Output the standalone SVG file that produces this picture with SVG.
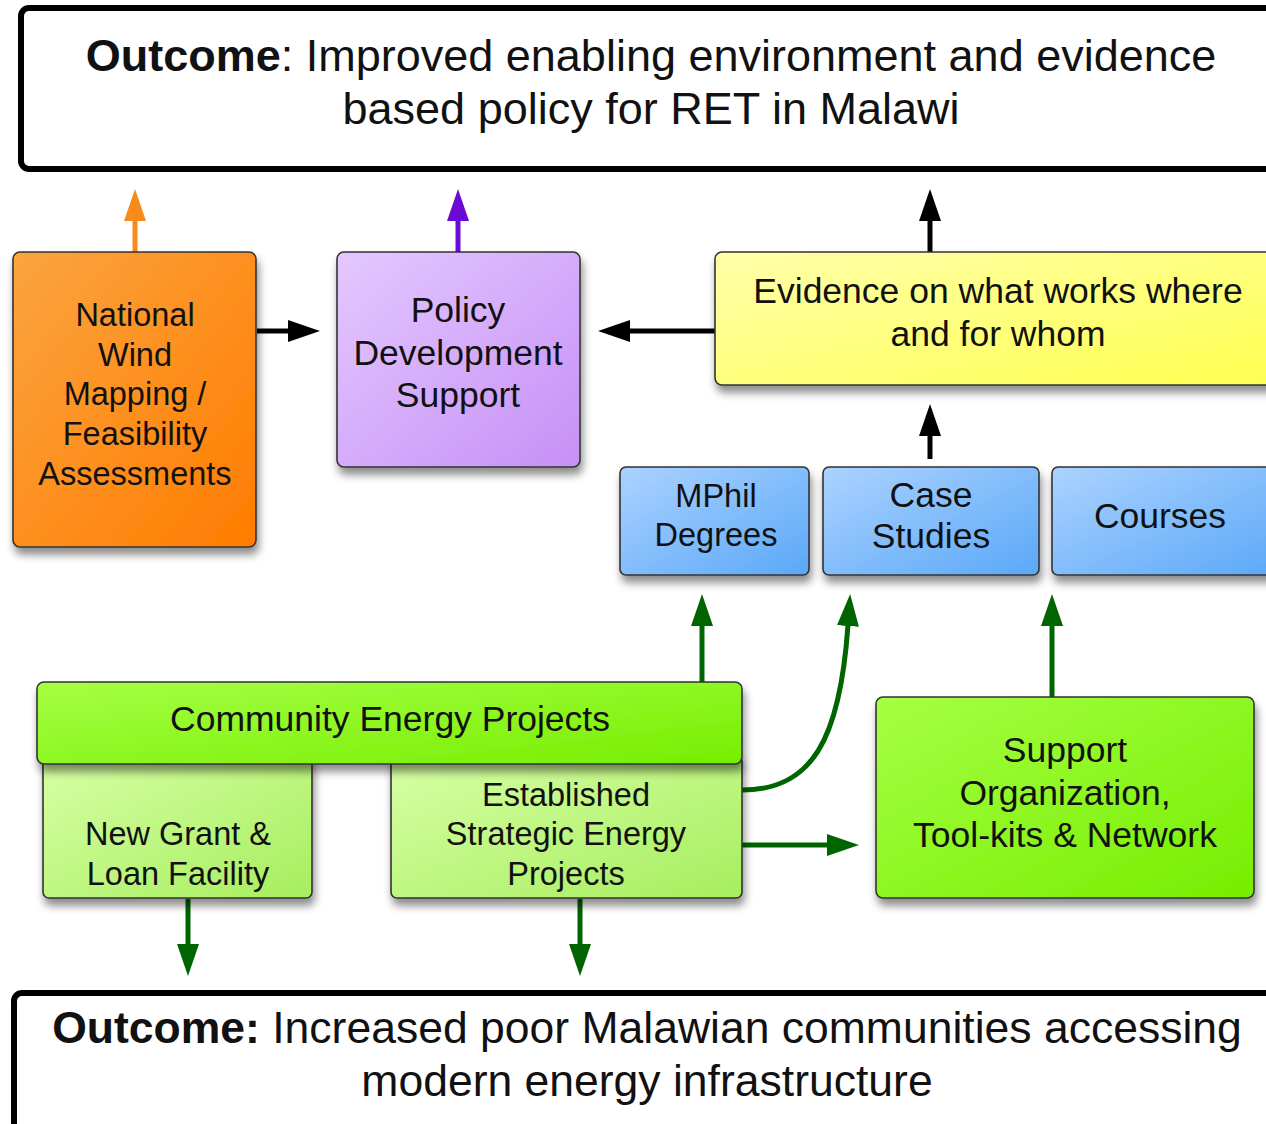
<svg xmlns="http://www.w3.org/2000/svg" width="1266" height="1124" viewBox="0 0 1266 1124">
  <defs>
    <style>
      text { font-family: "Liberation Sans", Arial, sans-serif; fill: #111; text-anchor: middle; }
      .big { font-size: 45px; }
      .big2 { font-size: 44.5px; }
      .b { font-weight: bold; }
      .t35 { font-size: 35.5px; }
      .t32 { font-size: 32.5px; }
      .box { stroke: #333; stroke-width: 1.6; filter: url(#shadow); }
      .outcome { fill: #fff; stroke: #000; stroke-width: 6; }
      .edge { fill: none; stroke-width: 5; }
      .k { stroke: #000; }
      .g { stroke: #006400; }
    </style>
    <filter id="shadow" x="-10%" y="-10%" width="125%" height="130%">
      <feDropShadow dx="2" dy="7" stdDeviation="4" flood-color="#000" flood-opacity="0.45"/>
    </filter>
    <linearGradient id="gOrange" x1="0" y1="0" x2="1" y2="1">
      <stop offset="0" stop-color="#fba43f"/>
      <stop offset="1" stop-color="#ff7c00"/>
    </linearGradient>
    <linearGradient id="gPurple" x1="0" y1="0" x2="1" y2="1">
      <stop offset="0" stop-color="#e4c8ff"/>
      <stop offset="1" stop-color="#c690f6"/>
    </linearGradient>
    <linearGradient id="gYellow" x1="0" y1="0" x2="1" y2="1">
      <stop offset="0" stop-color="#ffffaa"/>
      <stop offset="1" stop-color="#ffff50"/>
    </linearGradient>
    <linearGradient id="gBlue" x1="0" y1="0" x2="1" y2="1">
      <stop offset="0" stop-color="#acd2ff"/>
      <stop offset="1" stop-color="#5aa8f8"/>
    </linearGradient>
    <linearGradient id="gGreen" x1="0" y1="0" x2="1" y2="1">
      <stop offset="0" stop-color="#a6ff44"/>
      <stop offset="1" stop-color="#76ee00"/>
    </linearGradient>
    <linearGradient id="gLight" x1="0" y1="0" x2="1" y2="1">
      <stop offset="0" stop-color="#d8ffa6"/>
      <stop offset="1" stop-color="#a6ee5e"/>
    </linearGradient>
    <marker id="ahBlack" markerUnits="userSpaceOnUse" markerWidth="36" markerHeight="24" refX="1" refY="12" orient="auto">
      <path d="M0,1 L32,12 L0,23 Z" fill="#000"/>
    </marker>
    <marker id="ahGreen" markerUnits="userSpaceOnUse" markerWidth="36" markerHeight="24" refX="1" refY="12" orient="auto">
      <path d="M0,1 L32,12 L0,23 Z" fill="#006400"/>
    </marker>
    <marker id="ahOrange" markerUnits="userSpaceOnUse" markerWidth="36" markerHeight="24" refX="1" refY="12" orient="auto">
      <path d="M0,1 L32,12 L0,23 Z" fill="#f98a1c"/>
    </marker>
    <marker id="ahPurple" markerUnits="userSpaceOnUse" markerWidth="36" markerHeight="24" refX="1" refY="12" orient="auto">
      <path d="M0,1 L32,12 L0,23 Z" fill="#6a0ad4"/>
    </marker>
  </defs>

  <rect width="1266" height="1124" fill="#fff"/>

  <!-- outcome at the top -->
  <g id="outcome-policy">
    <rect class="outcome" x="21" y="8" width="1264" height="161" rx="8"/>
    <text class="big" x="651" y="71"><tspan class="b">Outcome</tspan>: Improved enabling environment and evidence</text>
    <text class="big" x="651" y="124">based policy for RET in Malawi</text>
  </g>

  <!-- connectors -->
  <g id="connectors">
    <path class="edge" stroke="#f98a1c" d="M135,252 V220" marker-end="url(#ahOrange)"/>
    <path class="edge" stroke="#6a0ad4" d="M458,252 V220" marker-end="url(#ahPurple)"/>
    <path class="edge k" d="M930,252 V220" marker-end="url(#ahBlack)"/>
    <path class="edge k" d="M257,331 H289" marker-end="url(#ahBlack)"/>
    <path class="edge k" d="M715,331 H629" marker-end="url(#ahBlack)"/>
    <path class="edge k" d="M930,459 V435" marker-end="url(#ahBlack)"/>
    <path class="edge g" d="M702,682 V625" marker-end="url(#ahGreen)"/>
    <path class="edge g" d="M742,790 C812,790 840,740 848,625" marker-end="url(#ahGreen)"/>
    <path class="edge g" d="M1052,697 V625" marker-end="url(#ahGreen)"/>
    <path class="edge g" d="M742,845 H828" marker-end="url(#ahGreen)"/>
    <path class="edge g" d="M188,899 V945" marker-end="url(#ahGreen)"/>
    <path class="edge g" d="M580,899 V945" marker-end="url(#ahGreen)"/>
  </g>

  <g id="wind-mapping">
    <rect class="box" x="13" y="252" width="243" height="295" rx="7" fill="url(#gOrange)"/>
    <text class="t32" x="135" y="326">National</text>
    <text class="t32" x="135" y="366">Wind</text>
    <text class="t32" x="135" y="405">Mapping /</text>
    <text class="t32" x="135" y="445">Feasibility</text>
    <text class="t32" x="135" y="485">Assessments</text>
  </g>

  <g id="policy-support">
    <rect class="box" x="337" y="252" width="243" height="215" rx="7" fill="url(#gPurple)"/>
    <text class="t35" x="458" y="322">Policy</text>
    <text class="t35" x="458" y="365">Development</text>
    <text class="t35" x="458" y="407">Support</text>
  </g>

  <g id="evidence">
    <rect class="box" x="715" y="252" width="566" height="133" rx="7" fill="url(#gYellow)"/>
    <text class="t35" x="998" y="303">Evidence on what works where</text>
    <text class="t35" x="998" y="346">and for whom</text>
  </g>

  <g id="mphil">
    <rect class="box" x="620" y="467" width="189" height="108" rx="6" fill="url(#gBlue)"/>
    <text class="t32" x="716" y="507">MPhil</text>
    <text class="t32" x="716" y="546">Degrees</text>
  </g>

  <g id="case-studies">
    <rect class="box" x="823" y="467" width="216" height="108" rx="6" fill="url(#gBlue)"/>
    <text class="t35" x="931" y="507">Case</text>
    <text class="t35" x="931" y="548">Studies</text>
  </g>

  <g id="courses">
    <rect class="box" x="1052" y="467" width="230" height="108" rx="6" fill="url(#gBlue)"/>
    <text class="t35" x="1160" y="528">Courses</text>
  </g>

  <g id="grant-facility">
    <rect class="box" x="43" y="755" width="269" height="143" rx="6" fill="url(#gLight)"/>
    <text class="t32" x="178" y="845">New Grant &amp;</text>
    <text class="t32" x="178" y="885">Loan Facility</text>
  </g>

  <g id="strategic-projects">
    <rect class="box" x="391" y="755" width="351" height="143" rx="6" fill="url(#gLight)"/>
    <text class="t32" x="566" y="806">Established</text>
    <text class="t32" x="566" y="845">Strategic Energy</text>
    <text class="t32" x="566" y="885">Projects</text>
  </g>

  <g id="community-projects">
    <rect class="box" x="37" y="682" width="705" height="82" rx="7" fill="url(#gGreen)"/>
    <text class="t35" x="390" y="731">Community Energy Projects</text>
  </g>

  <g id="support-org">
    <rect class="box" x="876" y="697" width="378" height="201" rx="7" fill="url(#gGreen)"/>
    <text class="t35" x="1065" y="762">Support</text>
    <text class="t35" x="1065" y="805">Organization,</text>
    <text class="t35" x="1065" y="847">Tool-kits &amp; Network</text>
  </g>

  <!-- outcome at the bottom -->
  <g id="outcome-access">
    <rect class="outcome" x="14" y="993" width="1268" height="160" rx="8"/>
    <text class="big2" x="647" y="1043"><tspan class="b">Outcome:</tspan> Increased poor Malawian communities accessing</text>
    <text class="big2" x="647" y="1096">modern energy infrastructure</text>
  </g>
</svg>
